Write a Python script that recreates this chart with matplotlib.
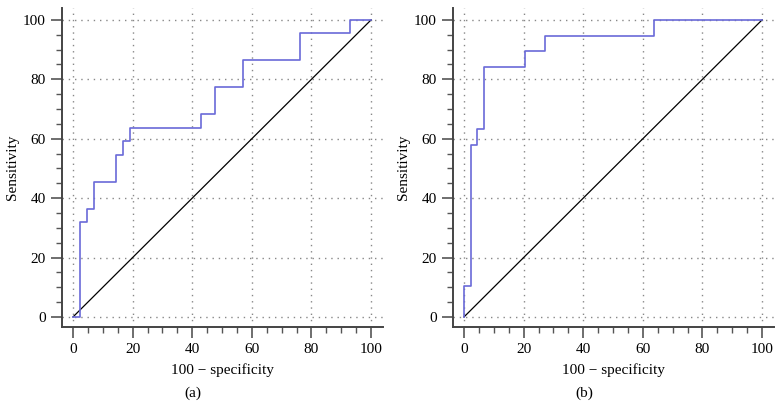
import matplotlib.pyplot as plt
import numpy as np
from matplotlib.ticker import MultipleLocator

# ROC step points (100 - specificity, sensitivity)
fpr_a = [0, 2.4, 2.4, 4.8, 4.8, 7.1, 7.1, 14.3, 14.3, 16.7, 16.7, 19.0, 19.0,
         42.9, 42.9, 47.6, 47.6, 57.1, 57.1, 76.2, 76.2, 92.9, 92.9, 100]
tpr_a = [0, 0, 31.8, 31.8, 36.4, 36.4, 45.5, 45.5, 54.5, 54.5, 59.1, 59.1, 63.6,
         63.6, 68.2, 68.2, 77.3, 77.3, 86.4, 86.4, 95.5, 95.5, 100, 100]

fpr_b = [0, 0, 2.3, 2.3, 4.5, 4.5, 6.8, 6.8, 20.5, 20.5, 27.3, 27.3, 63.6, 63.6, 100]
tpr_b = [0, 10.5, 10.5, 57.9, 57.9, 63.2, 63.2, 84.2, 84.2, 89.5, 89.5, 94.7, 94.7, 100, 100]

panels = [('(a)', fpr_a, tpr_a), ('(b)', fpr_b, tpr_b)]

plt.rcParams['font.family'] = ['Liberation Serif', 'DejaVu Serif']
fig = plt.figure(figsize=(7.82, 4.20), dpi=100)

lefts = [0.0793, 0.5793]
label_x = [0.247, 0.747]
for i, (tag, fx, fy) in enumerate(panels):
    ax = fig.add_axes([lefts[i], 0.2214, 0.4105, 0.7596])
    ax.plot([0, 100], [0, 100], color='black', lw=0.9)
    ax.plot(fx, fy, color='#6a6ad8', lw=1.2)
    ax.set_xlim(-3.7, 104)
    ax.set_ylim(-3.4, 104)
    ax.xaxis.set_major_locator(MultipleLocator(20))
    ax.xaxis.set_minor_locator(MultipleLocator(5))
    ax.yaxis.set_major_locator(MultipleLocator(20))
    ax.yaxis.set_minor_locator(MultipleLocator(5))
    ax.grid(True, which='major', color='#888888', linestyle=(0, (1, 3.5)), lw=1)
    for s in ['top', 'right']:
        ax.spines[s].set_visible(False)
    for s in ['left', 'bottom']:
        ax.spines[s].set_color('#444444')
        ax.spines[s].set_linewidth(1.4)
    ax.tick_params(which='major', length=8, width=1.2, color='#555555', labelsize=11)
    ax.tick_params(which='minor', length=4.5, width=1.0, color='#555555')
    ax.set_xlabel('100 − specificity', fontsize=11, labelpad=5)
    ax.set_ylabel('Sensitivity', fontsize=11, labelpad=3)
    fig.text(label_x[i], 0.064, tag, ha='center', va='center', fontsize=11)

plt.savefig('out.png', dpi=100)
